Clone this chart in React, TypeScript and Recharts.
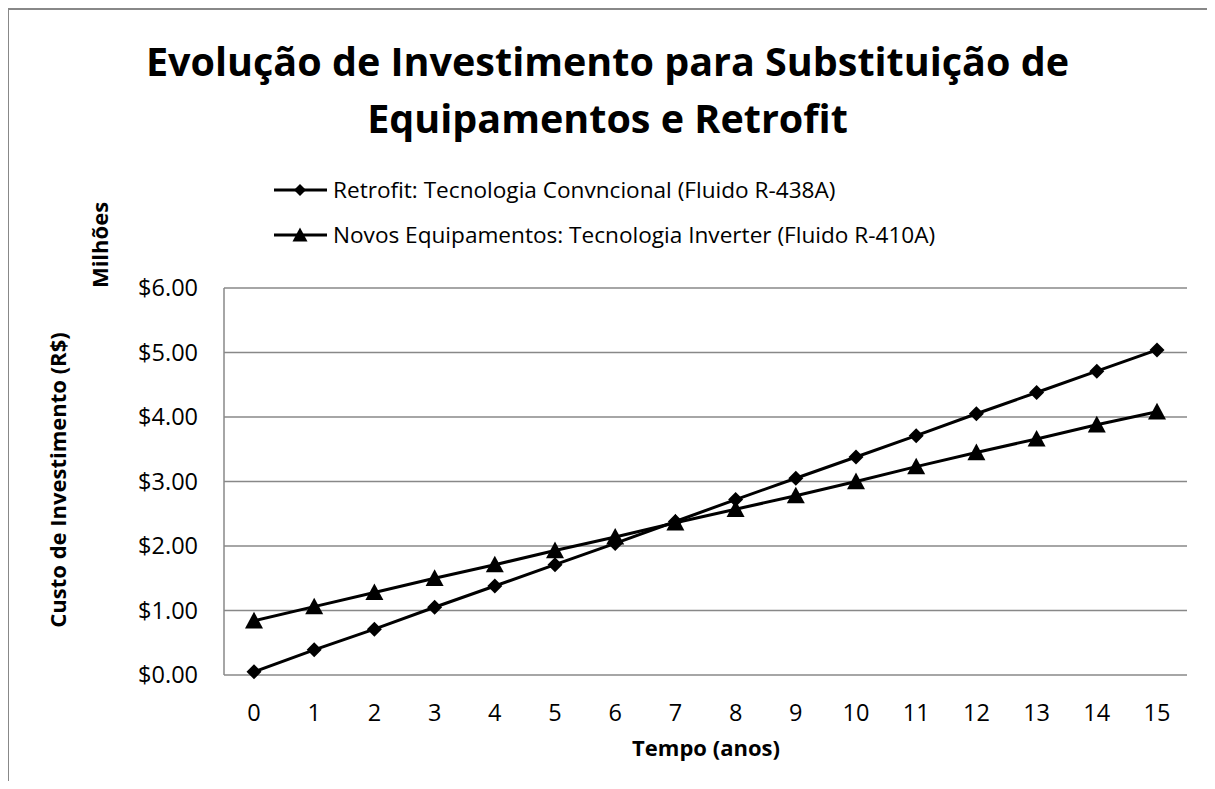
import React from 'react';
import { LineChart, Line, XAxis, YAxis, CartesianGrid, Legend } from 'recharts';

// --- data ---
const YEARS = ['0', '1', '2', '3', '4', '5', '6', '7', '8', '9', '10', '11', '12', '13', '14', '15'];
const RETROFIT = [0.05, 0.39, 0.71, 1.05, 1.38, 1.71, 2.04, 2.38, 2.72, 3.05, 3.38, 3.71, 4.05, 4.38, 4.71, 5.04];
const INVERTER = [0.84, 1.06, 1.28, 1.5, 1.71, 1.93, 2.14, 2.36, 2.57, 2.78, 3.0, 3.23, 3.45, 3.66, 3.88, 4.08];
const Y_TICKS = [0, 1, 2, 3, 4, 5, 6];

const RETROFIT_NAME = 'Retrofit: Tecnologia Convncional (Fluido R-438A)';
const INVERTER_NAME = 'Novos Equipamentos: Tecnologia Inverter (Fluido R-410A)';

const FONT = '"Open Sans", "Noto Sans", sans-serif';
const GRID = '#888888';

const data = YEARS.map((year, i) => ({ year, retrofit: RETROFIT[i], inverter: INVERTER[i] }));

const Diamond = ({ cx, cy, size = 7.5 }: any) => (
    <path d={`M${cx},${cy - size} L${cx + size},${cy} L${cx},${cy + size} L${cx - size},${cy} Z`} fill="#000" />
);

const Triangle = ({ cx, cy, size = 9 }: any) => (
    <path d={`M${cx},${cy - size} L${cx + size},${cy + size * 0.85} L${cx - size},${cy + size * 0.85} Z`} fill="#000" />
);

// legend rows sit at y = 190 and 235 on the page
const LegendBox = () => (
    <svg width={760} height={100} style={{ display: 'block', overflow: 'visible' }}>
        {[{ name: RETROFIT_NAME, y: 30, mark: 'd' }, { name: INVERTER_NAME, y: 75, mark: 't' }].map(item => (
            <g key={item.name}>
                <line x1={0} x2={53} y1={item.y} y2={item.y} stroke="#000" strokeWidth={3} />
                {item.mark === 'd' ? <Diamond cx={26} cy={item.y} size={6} /> : <Triangle cx={26} cy={item.y} size={7.5} />}
                <text x={59} y={item.y + 8} fontSize={22.6} fontFamily={FONT} fill="#000">{item.name}</text>
            </g>
        ))}
    </svg>
);

export default function App() {
    return (
        <div style={{ margin: -8, width: 1215, height: 789, position: 'relative', overflow: 'hidden', background: '#fff', fontFamily: FONT }}>
            <div style={{ position: 'absolute', left: 7, top: 8, width: 1300, height: 900, borderLeft: `2px solid ${GRID}`, borderTop: `2px solid ${GRID}` }} />
            <div style={{ position: 'absolute', left: 0, top: 33, width: 1215, textAlign: 'center', fontSize: 39.5, fontWeight: 700, lineHeight: '57px', color: '#000' }}>
                Evolução de Investimento para Substituição de<br />Equipamentos e Retrofit
            </div>
            <LineChart width={1215} height={789} data={data} margin={{ top: 288, right: 28, bottom: 84, left: 144 }}>
                <CartesianGrid vertical={false} stroke={GRID} strokeWidth={1.5} />
                <XAxis
                    dataKey="year"
                    padding={{ left: 30, right: 30 }}
                    axisLine={false}
                    tickLine={false}
                    tick={{ fontSize: 23.5, fill: '#000', fontFamily: FONT }}
                    tickMargin={23}
                />
                <YAxis
                    width={80}
                    domain={[0, 6]}
                    ticks={Y_TICKS}
                    axisLine={{ stroke: GRID, strokeWidth: 1.5 }}
                    tickLine={false}
                    tickMargin={20}
                    tickFormatter={(v: number) => `$${v.toFixed(2)}`}
                    tick={{ fontSize: 23.5, fill: '#000', fontFamily: FONT }}
                />
                <Legend
                    layout="horizontal"
                    verticalAlign="middle"
                    align="center"
                    content={() => <LegendBox />}
                    wrapperStyle={{ position: 'absolute', left: 274, top: 160, width: 760 }}
                />
                <Line dataKey="retrofit" name={RETROFIT_NAME} stroke="#000" strokeWidth={3} dot={<Diamond size={7.5} />} activeDot={false} isAnimationActive={false} />
                <Line dataKey="inverter" name={INVERTER_NAME} stroke="#000" strokeWidth={3} dot={<Triangle size={9} />} activeDot={false} isAnimationActive={false} />
                <text x={706} y={750} textAnchor="middle" dominantBaseline="middle" fontSize={22} fontWeight={700} fontFamily={FONT} fill="#000">
                    Tempo (anos)
                </text>
                <text x={60} y={480} transform="rotate(-90 60 480)" textAnchor="middle" dominantBaseline="middle" fontSize={22} fontWeight={700} fontFamily={FONT} fill="#000">
                    Custo de Investimento (R$)
                </text>
                <text x={102} y={245} transform="rotate(-90 102 245)" textAnchor="middle" dominantBaseline="middle" fontSize={22} fontWeight={700} fontFamily={FONT} fill="#000">
                    Milhões
                </text>
            </LineChart>
        </div>
    );
}
